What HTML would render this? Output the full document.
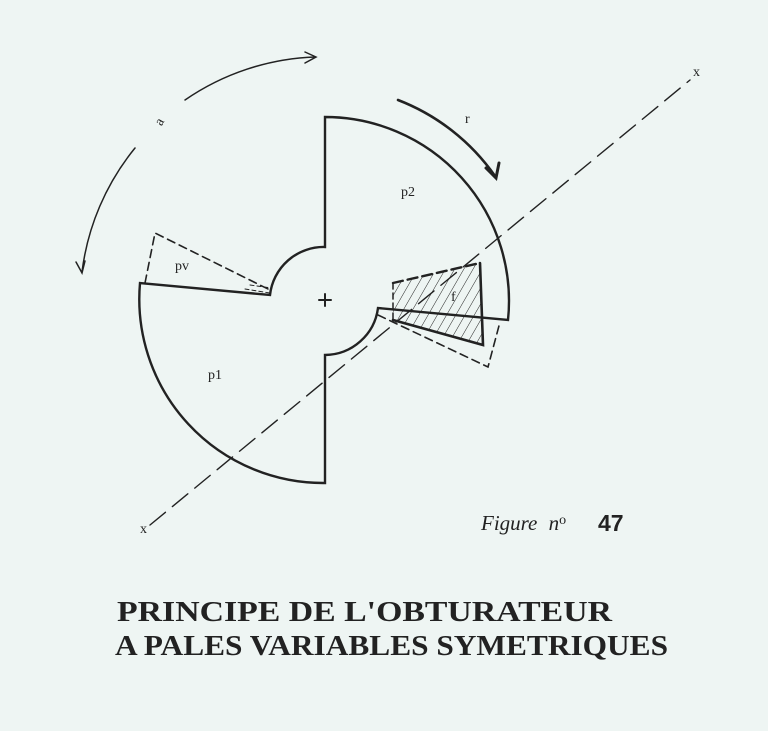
<!DOCTYPE html>
<html><head><meta charset="utf-8"><style>
html,body{margin:0;padding:0;background:#eef5f3;}
svg{display:block}
</style></head><body>
<svg width="768" height="731" viewBox="0 0 768 731" xmlns="http://www.w3.org/2000/svg">
<rect width="768" height="731" fill="#eef5f3"/>
<defs>
<pattern id="h" patternUnits="userSpaceOnUse" width="8" height="8" patternTransform="rotate(30)">
<line x1="0" y1="0" x2="0" y2="8" stroke="#222" stroke-width="1"/>
</pattern>
</defs>
<g fill="none" stroke="#222" stroke-linecap="round">
<line x1="150" y1="525" x2="690" y2="80" stroke-width="1.4" stroke-dasharray="20,9"/>
<path d="M325,117 A184,184 0 0 1 508,320 L378,308 A54,54 0 0 1 325,355 L325,483 A184,184 0 0 1 140,283 L270,295 A54,54 0 0 1 325,247 Z" stroke-width="2.4" fill="none"/>
<path d="M393,283 L480,263 L483,345 L393,320 Z" fill="url(#h)" stroke="none"/>
<path d="M393,283 L480,263" stroke-width="2.4" stroke-dasharray="10,5"/>
<path d="M480,263 L483,345 L393,320" stroke-width="2.6"/>
<path d="M393,283 L393,320" stroke-width="1.5" stroke-dasharray="6,4"/>
<path d="M378,315 L488,367 L500,322" stroke-width="1.6" stroke-dasharray="8,5"/>
<path d="M145,283 L155,233 L270,290" stroke-width="1.6" stroke-dasharray="8,5"/>
<path d="M245,289 L270,293 M250,285 L271,288" stroke-width="1" stroke-dasharray="4,3"/>
<path d="M135,148 A244,244 0 0 0 82,272" stroke-width="1.5"/>
<path d="M76,262 L82,273 L85,261" stroke-width="1.5"/>
<path d="M185,100 A244,244 0 0 1 315,57" stroke-width="1.5"/>
<path d="M305,52 L316,57 L305,63" stroke-width="1.5"/>
<path d="M398,100 A211,211 0 0 1 495,176" stroke-width="2.6"/>
<path d="M486,168 L496,178 L499,163" stroke-width="3"/>
<path d="M319,300 L331,300 M325,294 L325,306" stroke-width="2"/>
</g>
<g font-family="Liberation Serif, serif" fill="#222" font-size="14">
<text x="401" y="196">p2</text>
<text x="175" y="270">pv</text>
<text x="208" y="379">p1</text>
<text x="451" y="301">f</text>
<text x="465" y="123">r</text>
<text x="156" y="125" transform="rotate(-60 160 121)">a</text>
<text x="140" y="533">x</text>
<text x="693" y="76">x</text>
<text x="481" y="530" font-size="21" font-style="italic">Figure <tspan dx="6">n</tspan><tspan font-size="14" dy="-6" font-style="normal">o</tspan></text>
<text x="598" y="531" font-size="23" font-family="Liberation Sans, sans-serif" font-weight="bold">47</text>
<text x="117" y="621" font-size="28" font-weight="bold" textLength="495" lengthAdjust="spacingAndGlyphs">PRINCIPE DE L'OBTURATEUR</text>
<text x="115" y="655" font-size="28" font-weight="bold" textLength="553" lengthAdjust="spacingAndGlyphs">A PALES VARIABLES SYMETRIQUES</text>
</g>
</svg>
</body></html>
